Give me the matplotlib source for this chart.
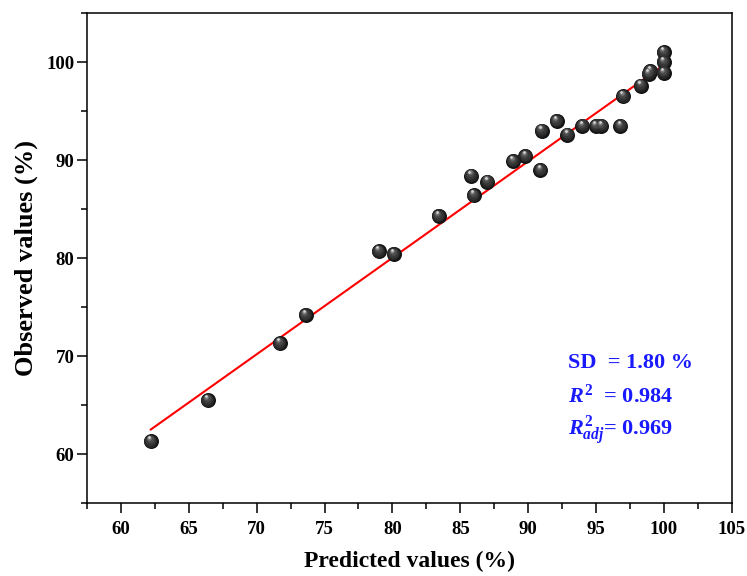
import matplotlib
matplotlib.use("Agg")
import matplotlib.pyplot as plt
from matplotlib.ticker import MultipleLocator
from matplotlib.transforms import offset_copy

# Predicted vs observed values (%)
pred = [62.2, 66.4, 71.7, 73.6, 79.0, 80.1, 83.4, 85.8, 86.0, 87.0,
        88.9, 89.8, 90.9, 91.0, 92.1, 92.9, 94.0, 95.0, 95.4, 96.8,
        97.0, 98.3, 99.0, 98.9, 100.0, 100.0, 100.0]
obs = [61.3, 65.5, 71.3, 74.2, 80.7, 80.4, 84.3, 88.4, 86.4, 87.8,
       89.9, 90.4, 89.0, 93.0, 94.0, 92.6, 93.5, 93.5, 93.5, 93.5,
       96.5, 97.6, 99.1, 98.8, 98.9, 100.0, 101.0]

# linear fit line end points
fit_x = [62.2, 100.2]
fit_y = [62.5, 99.9]

stats = ["SD  = 1.80 %",
         r"$\mathit{R^2}$  = 0.984",
         r"$\mathit{R^2_{adj}}$= 0.969"]

plt.rcParams['font.family'] = ['Liberation Serif', 'DejaVu Serif']
plt.rcParams['font.weight'] = 'bold'
plt.rcParams['mathtext.fontset'] = 'custom'
plt.rcParams['mathtext.rm'] = 'Liberation Serif:bold'
plt.rcParams['mathtext.it'] = 'Liberation Serif:italic:bold'
plt.rcParams['mathtext.bf'] = 'Liberation Serif:bold'

fig = plt.figure(figsize=(7.47, 5.76), dpi=100)
ax = fig.add_axes([0.1165, 0.1267, 0.863, 0.8507])

# fit line
ax.plot(fit_x, fit_y, color='#ff0000', lw=1.5, zorder=2)

# shaded sphere markers: layered circles shifted up-left
layers = [(15.0, '#141414', 0.0, 0.0),
          (13.0, '#262626', -0.4, 0.6),
          (10.5, '#363636', -0.8, 1.3),
          (7.5, '#4a4a4a', -1.2, 2.2),
          (4.5, '#7a7a7a', -1.5, 3.2),
          (2.6, '#d8d8d8', -1.7, 3.9)]
for d, c, dx, dy in layers:
    tr = offset_copy(ax.transData, fig=fig, x=dx, y=dy, units='dots')
    ax.scatter(pred, obs, s=(d * 0.72) ** 2, color=c, lw=0,
               transform=tr, zorder=3)

ax.set_xlim(57.5, 105)
ax.set_ylim(55, 105)
ax.xaxis.set_major_locator(MultipleLocator(5))
ax.xaxis.set_minor_locator(MultipleLocator(2.5))
ax.yaxis.set_major_locator(MultipleLocator(10))
ax.yaxis.set_minor_locator(MultipleLocator(5))
ax.tick_params(which='major', direction='out', length=7, width=1.1,
               labelsize=13.5)
ax.tick_params(which='minor', direction='out', length=4, width=1.1)
ax.tick_params(axis='x', which='major', pad=6)
ax.tick_params(axis='y', which='major', pad=2)
for s in ax.spines.values():
    s.set_linewidth(1.1)

ax.set_xlabel("Predicted values (%)", fontsize=17, fontweight='bold',
              labelpad=9)
ax.set_ylabel("Observed values (%)", fontsize=19, fontweight='bold',
              labelpad=6)

ys = [0.286, 0.218, 0.150]
for t, y in zip(stats, ys):
    ax.text(0.746, y, t, transform=ax.transAxes, color='#1a1aff',
            fontsize=16, fontweight='bold', va='center', ha='left')

fig.savefig("out.png", dpi=100)
